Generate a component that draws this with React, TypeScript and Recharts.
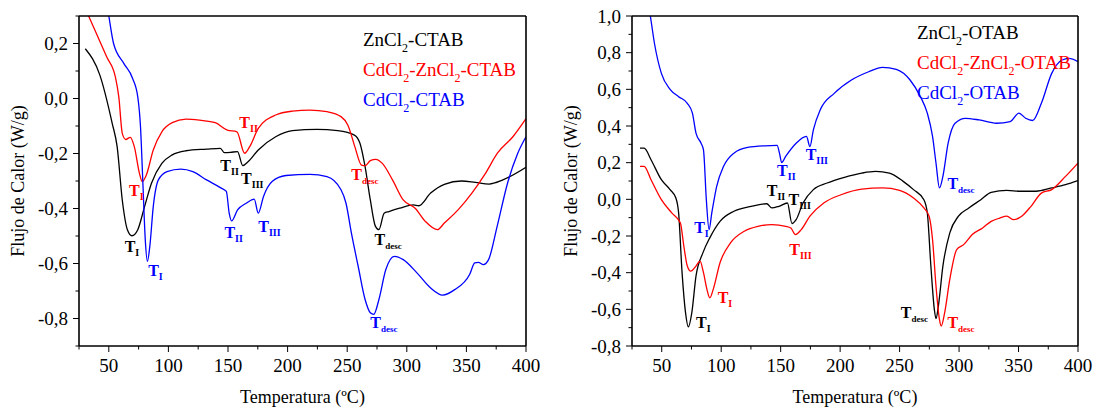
import React from "react"
import { LineChart, Line, XAxis, YAxis, ReferenceDot, Legend } from "recharts"

const FONT = '"Liberation Serif", "Times New Roman", serif'

// ---- CTAB panel (left) ----
const znCtabT = [30.3, 42.5, 52.9, 57, 61.3, 65.6, 69.4, 74.3, 80, 85.8, 94.5, 103.2, 114.7, 132, 143.6, 147, 152, 158, 162.4, 166.8, 175.4, 190, 204, 224.6, 242, 256, 260.7, 265, 269.4, 273.7, 276.6, 281, 285, 294, 305.5, 310, 320, 331.5, 346, 357.5, 369, 380.6, 400]
const znCtabV = [0.181, 0.085, -0.091, -0.175, -0.369, -0.477, -0.499, -0.477, -0.393, -0.308, -0.236, -0.205, -0.19, -0.184, -0.181, -0.197, -0.196, -0.193, -0.244, -0.23, -0.187, -0.139, -0.117, -0.112, -0.117, -0.133, -0.163, -0.248, -0.369, -0.465, -0.477, -0.417, -0.411, -0.399, -0.387, -0.39, -0.344, -0.312, -0.3, -0.305, -0.311, -0.296, -0.25]

const cdZnCtabT = [30, 39.6, 48.3, 55.5, 58.4, 61.3, 64.2, 68, 71.4, 75.7, 78, 81.5, 87.3, 94.5, 103.2, 114.7, 126.3, 139.3, 149.4, 157.5, 163.9, 168.2, 175.4, 190, 204, 218.8, 233, 244.8, 250.6, 256.4, 262, 265, 269.4, 274, 279.5, 288, 297, 307, 315.6, 325.7, 331.5, 343, 354.6, 366, 376, 389, 400]
const cdZnCtabV = [0.33, 0.236, 0.151, 0.079, 0.006, -0.127, -0.149, -0.141, -0.175, -0.272, -0.302, -0.278, -0.187, -0.121, -0.088, -0.075, -0.079, -0.088, -0.115, -0.121, -0.199, -0.175, -0.109, -0.06, -0.046, -0.042, -0.048, -0.066, -0.097, -0.175, -0.242, -0.244, -0.226, -0.221, -0.236, -0.296, -0.369, -0.399, -0.447, -0.477, -0.453, -0.405, -0.344, -0.272, -0.199, -0.139, -0.073]

const cdCtabT = [46, 50, 54, 62.7, 70, 74.3, 76.6, 78.6, 80.6, 82.4, 84.4, 87.3, 91.6, 98.8, 110.4, 120.5, 132, 143.6, 148.6, 151, 153, 158, 165.3, 172, 175.4, 179.8, 187, 198.6, 218.8, 233, 244.8, 249, 253.5, 259.2, 265, 269.4, 272.3, 276.6, 282.4, 289.6, 297, 308.5, 320, 330, 340.2, 352.7, 357, 360, 364.3, 368.6, 375.8, 384.5, 393, 400]
const cdCtabV = [0.4, 0.3, 0.2, 0.127, 0.073, 0.006, -0.103, -0.308, -0.514, -0.592, -0.538, -0.393, -0.296, -0.266, -0.257, -0.266, -0.296, -0.324, -0.338, -0.417, -0.445, -0.405, -0.381, -0.366, -0.417, -0.356, -0.302, -0.28, -0.276, -0.284, -0.332, -0.381, -0.489, -0.61, -0.731, -0.779, -0.785, -0.731, -0.622, -0.574, -0.586, -0.634, -0.689, -0.715, -0.695, -0.64, -0.598, -0.596, -0.604, -0.586, -0.465, -0.308, -0.2, -0.139]

// ---- OTAB panel (right) ----
const znOtabT = [31.7, 35.2, 41, 49.7, 57, 61.9, 64.2, 67.1, 70, 72.4, 75.3, 78.8, 84.6, 90.4, 99, 110.7, 125.2, 138.3, 142.6, 148.5, 155.7, 159.5, 163, 168.8, 177.5, 189.1, 203.6, 218.2, 229.8, 241.4, 253, 261.7, 270.4, 273.3, 276.3, 279.2, 280.6, 282.6, 286.4, 292.2, 299.5, 308.2, 318.3, 327, 340.1, 351.7, 364.8, 377.8, 389.5, 400]
const znOtabV = [0.279, 0.279, 0.216, 0.107, 0.053, 0.007, -0.074, -0.4, -0.618, -0.696, -0.618, -0.419, -0.292, -0.21, -0.12, -0.065, -0.038, -0.024, -0.047, -0.038, -0.02, -0.132, -0.111, -0.02, 0.053, 0.089, 0.12, 0.143, 0.152, 0.143, 0.098, 0.053, -0.002, -0.074, -0.364, -0.6, -0.651, -0.582, -0.364, -0.183, -0.092, -0.047, -0.002, 0.038, 0.049, 0.044, 0.044, 0.062, 0.08, 0.102]

const cdZnOtabT = [31.7, 35.2, 41, 49.7, 58.4, 65.7, 68.6, 71.5, 74.4, 78.8, 82.2, 85.1, 88, 90.4, 93.3, 99, 107.8, 119.4, 131, 142.6, 154.3, 158.6, 162.4, 167.3, 174.6, 186.2, 200.7, 218.2, 235.6, 250, 261.7, 270.4, 274.8, 277.7, 280.6, 283.5, 285, 287.9, 292.2, 298, 303.8, 311.1, 319.8, 327, 334.3, 340.1, 345.9, 353.2, 360.5, 369.2, 377.9, 389.5, 400]
const cdZnOtabV = [0.18, 0.18, 0.107, -0.002, -0.074, -0.129, -0.256, -0.364, -0.392, -0.364, -0.337, -0.4, -0.491, -0.537, -0.491, -0.346, -0.238, -0.174, -0.147, -0.138, -0.147, -0.156, -0.192, -0.165, -0.092, -0.02, 0.025, 0.056, 0.062, 0.049, 0.007, -0.047, -0.092, -0.219, -0.473, -0.655, -0.691, -0.618, -0.437, -0.274, -0.247, -0.192, -0.156, -0.12, -0.102, -0.092, -0.111, -0.089, -0.038, 0.034, 0.053, 0.125, 0.198]

const cdOtabT = [37, 40.4, 43.9, 49.7, 57, 64.2, 71.5, 75.8, 78.8, 83.1, 85.1, 87.5, 89.8, 92.1, 96.2, 102, 110.7, 122.3, 136.8, 147, 149, 150.8, 154.2, 163, 171.7, 174.6, 177.5, 183.3, 195, 209.5, 224, 235.6, 247.2, 258.8, 267.5, 273.3, 277.7, 280.6, 283.5, 286.4, 290.8, 296.6, 305.3, 316.9, 331.4, 343, 350.3, 356, 361.9, 369.2, 377.9, 386.6, 392.4, 400]
const cdOtabV = [1.12, 1.0, 0.85, 0.687, 0.6, 0.56, 0.524, 0.47, 0.361, 0.306, 0.27, -0.002, -0.165, -0.074, 0.071, 0.18, 0.252, 0.283, 0.292, 0.294, 0.252, 0.201, 0.234, 0.306, 0.343, 0.288, 0.379, 0.488, 0.578, 0.651, 0.696, 0.72, 0.709, 0.651, 0.56, 0.47, 0.343, 0.198, 0.062, 0.125, 0.306, 0.415, 0.442, 0.433, 0.415, 0.424, 0.47, 0.442, 0.43, 0.524, 0.687, 0.76, 0.769, 0.751]

// axis ticks
const xTicks = [25, 50, 75, 100, 125, 150, 175, 200, 225, 250, 275, 300, 325, 350, 375, 400]
const ctabYTicks = [-0.9, -0.8, -0.7, -0.6, -0.5, -0.4, -0.3, -0.2, -0.1, 0, 0.1, 0.2, 0.3]
const otabYTicks = [-0.8, -0.7, -0.6, -0.5, -0.4, -0.3, -0.2, -0.1, 0, 0.1, 0.2, 0.3, 0.4, 0.5, 0.6, 0.7, 0.8, 0.9, 1.0]

// peak annotations: [series, subscript, temperature, value]
const ctabMarks: [string, string, number, number][] = [
  ["zn", "I", 63.3, -0.558],
  ["cd", "I", 83, -0.646],
  ["cdzn", "I", 67, -0.356],
  ["cdzn", "II", 159.5, -0.109],
  ["zn", "II", 143.6, -0.262],
  ["zn", "III", 161, -0.312],
  ["cd", "II", 147, -0.508],
  ["cd", "III", 175.4, -0.486],
  ["cdzn", "desc", 253.5, -0.296],
  ["zn", "desc", 273, -0.532],
  ["cd", "desc", 269.4, -0.834],
]
const otabMarks: [string, string, number, number][] = [
  ["cd", "I", 77.3, -0.183],
  ["cd", "II", 147, 0.129],
  ["cd", "III", 171, 0.212],
  ["cd", "desc", 290.2, 0.056],
  ["zn", "II", 138.3, 0.016],
  ["zn", "III", 156.6, -0.029],
  ["cdzn", "III", 157.2, -0.301],
  ["cdzn", "I", 97, -0.568],
  ["zn", "I", 78.8, -0.7],
  ["zn", "desc", 251, -0.646],
  ["cdzn", "desc", 290.2, -0.7],
]

const colors: Record<string, string> = { zn: "#000000", cdzn: "#ff0000", cd: "#0000ff" }

const zip = (t: number[], v: number[]) => {
  const n = Math.min(t.length, v.length)
  const out = []
  for (let i = 0; i < n; i++) out.push({ t: t[i], v: v[i] })
  return out
}

const fmt = (v: number) => (Math.abs(v) < 1e-9 ? "0,0" : v.toFixed(1).replace(".", ","))

const serif = { fontFamily: FONT }

const XTick = (props: any) => {
  const { x, y, payload } = props
  const major = payload.value % 50 === 0
  return (
    <g>
      <line x1={x} x2={x} y1={y} y2={y + (major ? 6 : 3.5)} stroke="#000" strokeWidth={1} />
      {major && (
        <text x={x} y={y + 26} textAnchor="middle" style={serif} fontSize={19} fill="#000">
          {payload.value}
        </text>
      )}
    </g>
  )
}

const YTick = (props: any) => {
  const { x, y, payload } = props
  const major = Math.round(payload.value * 10) % 2 === 0
  return (
    <g>
      <line x1={x} x2={x - (major ? 6 : 3.5)} y1={y} y2={y} stroke="#000" strokeWidth={1} />
      {major && (
        <text x={x - 11} y={y} dy="0.35em" textAnchor="end" style={serif} fontSize={19} fill="#000">
          {fmt(payload.value)}
        </text>
      )}
    </g>
  )
}

// "ZnCl_2-CTAB" -> ZnCl with subscript 2
const withSubs = (name: string) =>
  name.split(/(_\w)/).map((part, i) =>
    part.startsWith("_") ? (
      <span key={i} style={{ fontSize: 12, verticalAlign: -6 }}>
        {part.slice(1)}
      </span>
    ) : (
      <span key={i}>{part}</span>
    )
  )

const Mark = ({ cx, cy, sub, color }: any) => (
  <text x={cx} y={cy} fill={color} style={serif} fontWeight="bold" fontSize={16}>
    T
    <tspan fontSize={sub === "desc" ? 9 : 10} dy={4}>
      {sub}
    </tspan>
  </text>
)

interface PanelProps {
  width: number
  series: { key: string; name: string; data: { t: number; v: number }[] }[]
  marks: [string, string, number, number][]
  yDomain: [number, number]
  yTicks: number[]
  legendPos: { left: number; top: number }
  right: number
}

const frame = { stroke: "#000", strokeWidth: 1.6 }

function Panel({ width, series, marks, yDomain, yTicks, legendPos, right }: PanelProps) {
  const plotLeft = 79
  const plotRight = width - right
  return (
    <LineChart width={width} height={407} margin={{ top: 15, right: right - 1, bottom: 60, left: 0 }}>
      <XAxis
        dataKey="t"
        type="number"
        domain={[25, 400]}
        allowDataOverflow
        ticks={xTicks}
        interval={0}
        height={1}
        tickSize={0}
        tickMargin={0}
        tickLine={false}
        tick={<XTick />}
        axisLine={frame}
        label={{
          content: () => (
            <text x={(plotLeft + plotRight) / 2} y={403} textAnchor="middle" style={serif} fontSize={18} fill="#000">
              Temperatura (ºC)
            </text>
          ),
        }}
      />
      <XAxis
        xAxisId="top"
        orientation="top"
        dataKey="t"
        type="number"
        domain={[25, 400]}
        height={1}
        tick={false}
        tickLine={false}
        axisLine={frame}
      />
      <YAxis
        type="number"
        domain={yDomain}
        allowDataOverflow
        ticks={yTicks}
        interval={0}
        width={plotLeft}
        tickSize={0}
        tickMargin={0}
        tickLine={false}
        tick={<YTick />}
        axisLine={frame}
        label={{
          content: () => (
            <text
              x={18}
              y={181}
              transform="rotate(-90 18 181)"
              textAnchor="middle"
              dominantBaseline="central"
              style={serif}
              fontSize={18}
              fill="#000"
            >
              Flujo de Calor (W/g)
            </text>
          ),
        }}
      />
      <YAxis
        yAxisId="right"
        orientation="right"
        type="number"
        domain={yDomain}
        width={1}
        tick={false}
        tickLine={false}
        axisLine={frame}
      />
      <Legend
        layout="horizontal"
        verticalAlign="middle"
        align="center"
        wrapperStyle={{ left: legendPos.left, top: legendPos.top, width: 200 }}
        content={() => (
          <div style={{ fontFamily: FONT, fontSize: 19, lineHeight: "22px", whiteSpace: "nowrap" }}>
            {series.map((s) => (
              <div key={s.key} style={{ color: colors[s.key] }}>
                {withSubs(s.name)}
              </div>
            ))}
          </div>
        )}
      />
      {series.map((s) => (
        <Line
          key={s.key}
          data={s.data}
          dataKey="v"
          name={s.name}
          type="monotone"
          stroke={colors[s.key]}
          strokeWidth={1.3}
          dot={false}
          activeDot={false}
          isAnimationActive={false}
        />
      ))}
      {marks.map(([key, sub, t, v], i) => (
        <ReferenceDot
          key={i}
          x={t}
          y={v}
          r={0}
          ifOverflow="visible"
          shape={(p: any) => <Mark cx={p.cx} cy={p.cy} sub={sub} color={colors[key]} />}
        />
      ))}
    </LineChart>
  )
}

export default function App() {
  const ctabSeries = [
    { key: "zn", name: "ZnCl_2-CTAB", data: zip(znCtabT, znCtabV) },
    { key: "cdzn", name: "CdCl_2-ZnCl_2-CTAB", data: zip(cdZnCtabT, cdZnCtabV) },
    { key: "cd", name: "CdCl_2-CTAB", data: zip(cdCtabT, cdCtabV) },
  ]
  const otabSeries = [
    { key: "zn", name: "ZnCl_2-OTAB", data: zip(znOtabT, znOtabV) },
    { key: "cdzn", name: "CdCl_2-ZnCl_2-OTAB", data: zip(cdZnOtabT, cdZnOtabV) },
    { key: "cd", name: "CdCl_2-OTAB", data: zip(cdOtabT, cdOtabV) },
  ]
  return (
    <div style={{ position: "absolute", left: 0, top: 0, width: 1093, height: 407, background: "#fff", overflow: "hidden" }}>
      <div style={{ position: "absolute", left: 0, top: 0 }}>
        <Panel
          width={546}
          series={ctabSeries}
          marks={ctabMarks}
          yDomain={[-0.9, 0.3]}
          yTicks={ctabYTicks}
          legendPos={{ left: 363, top: 29 }}
          right={20}
        />
      </div>
      <div style={{ position: "absolute", left: 553, top: 0 }}>
        <Panel
          width={540}
          series={otabSeries}
          marks={otabMarks}
          yDomain={[-0.8, 1.0]}
          yTicks={otabYTicks}
          legendPos={{ left: 364, top: 22 }}
          right={15}
        />
      </div>
    </div>
  )
}
